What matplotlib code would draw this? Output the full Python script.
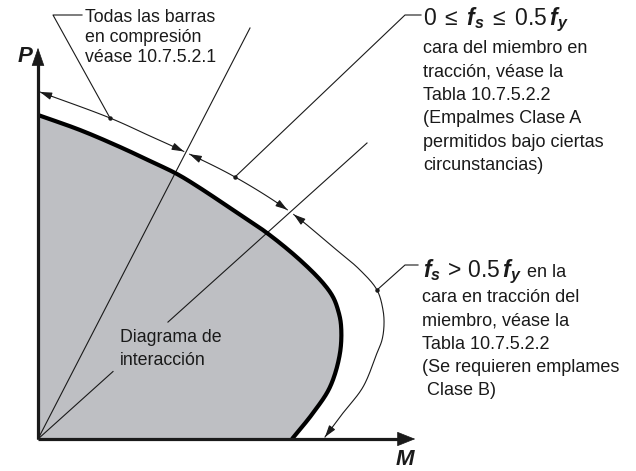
import numpy as np
import matplotlib
matplotlib.use("Agg")
import matplotlib.pyplot as plt
from matplotlib.patches import FancyArrowPatch

plt.rcParams['mathtext.fontset'] = 'custom'
plt.rcParams['mathtext.rm'] = 'Liberation Sans'
plt.rcParams['mathtext.it'] = 'Liberation Sans:italic'
plt.rcParams['mathtext.bf'] = 'Liberation Sans:bold'
plt.rcParams['mathtext.bfit'] = 'Liberation Sans:italic:bold'

# ---------------- data (M, P) relative to origin ----------------
inner_M = [0, 42, 82, 112, 139, 162, 195, 229, 262, 285, 295, 300, 303, 302, 292, 275, 254]
inner_P = [324, 309, 292, 278, 265, 251, 229, 206, 179, 156, 142, 129, 114, 86, 52, 26, 0]

outer_M = [2, 72, 112, 147, 197, 251, 295, 322, 339, 345, 346, 344, 339, 325, 305, 287]
outer_P = [347, 321, 303, 287, 262, 228, 192, 169, 149, 129, 114, 99, 86, 52, 26, 2]

ray1_end = (212, 411)   # line "todas las barras en compresión"
ray2_end = (329, 296)   # line through fs = 0.5 fy boundary

P_axis_len = 394
M_axis_len = 380

label_todas = ["Todas las barras", "en compresión", "véase 10.7.5.2.1"]
label_A_head = r"$0\;\leq\;\mathbfit{f}_{\mathbfit{s}}\;\leq\;0.5\,\mathbfit{f}_{\mathbfit{y}}$"
label_A = ["cara del miembro en", "tracción, véase la", "Tabla 10.7.5.2.2",
           "(Empalmes Clase A", "permitidos bajo ciertas", "circunstancias)"]
label_B_head = r"$\mathbfit{f}_{\mathbfit{s}}\,>\,0.5\,\mathbfit{f}_{\mathbfit{y}}$"
label_B_tail = "en la"
label_B = ["cara en tracción del", "miembro, véase la", "Tabla 10.7.5.2.2",
           "(Se requieren emplames", " Clase B)"]
label_diag = ["Diagrama de", "interacción"]


def catmull(xs, ys, n=30, alpha=0.5):
    pts = np.column_stack([xs, ys]).astype(float)
    pts = np.vstack([2 * pts[0] - pts[1], pts, 2 * pts[-1] - pts[-2]])
    out = []
    for i in range(1, len(pts) - 2):
        p0, p1, p2, p3 = pts[i - 1], pts[i], pts[i + 1], pts[i + 2]
        t0 = 0.0
        t1 = t0 + np.linalg.norm(p1 - p0) ** alpha
        t2 = t1 + np.linalg.norm(p2 - p1) ** alpha
        t3 = t2 + np.linalg.norm(p3 - p2) ** alpha
        t = np.linspace(t1, t2, n, endpoint=False)[:, None]
        a1 = (t1 - t) / (t1 - t0) * p0 + (t - t0) / (t1 - t0) * p1
        a2 = (t2 - t) / (t2 - t1) * p1 + (t - t1) / (t2 - t1) * p2
        a3 = (t3 - t) / (t3 - t2) * p2 + (t - t2) / (t3 - t2) * p3
        b1 = (t2 - t) / (t2 - t0) * a1 + (t - t0) / (t2 - t0) * a2
        b2 = (t3 - t) / (t3 - t1) * a2 + (t - t1) / (t3 - t1) * a3
        c = (t2 - t) / (t2 - t1) * b1 + (t - t1) / (t2 - t1) * b2
        out.append(c)
    out.append(pts[-2][None, :])
    return np.vstack(out)


fig = plt.figure(figsize=(6.36, 4.71), dpi=100)
ax = fig.add_axes([0, 0, 1, 1])
ax.set_xlim(-38, 598)
ax.set_ylim(-32, 439)
ax.axis('off')

LINE = '#1a1a1a'
FONT = 'Liberation Sans'

inner = catmull(inner_M, inner_P)
outer = catmull(outer_M, outer_P)

# gray interaction area
ax.fill(np.r_[0, inner[:, 0], 0], np.r_[0, inner[:, 1], 0], color='#bebfc3', lw=0, zorder=1)

# rays from origin
ax.plot([0, ray1_end[0]], [0, ray1_end[1]], color=LINE, lw=0.8, zorder=2)
r2 = np.array(ray2_end, float)
ax.plot([0, 0.228 * r2[0]], [0, 0.228 * r2[1]], color=LINE, lw=0.8, zorder=2)
ax.plot([0.395 * r2[0], r2[0]], [0.395 * r2[1], r2[1]], color=LINE, lw=0.8, zorder=2)

# interaction curve
ax.plot(inner[:, 0], inner[:, 1], color='black', lw=3.0, zorder=3, solid_capstyle='butt')

# axes with arrows
ax.plot([0, 0], [0, P_axis_len - 14], color=LINE, lw=2.3, zorder=4, solid_capstyle='butt')
ax.plot([0, M_axis_len - 14], [0, 0], color=LINE, lw=2.3, zorder=4, solid_capstyle='butt')
ax.add_patch(FancyArrowPatch((0, P_axis_len - 20), (0, P_axis_len), arrowstyle='-|>,head_length=12,head_width=4.2',
                             mutation_scale=1, color=LINE, lw=0.5, zorder=5))
ax.add_patch(FancyArrowPatch((M_axis_len - 20, 0), (M_axis_len, 0), arrowstyle='-|>,head_length=12,head_width=4.8',
                             mutation_scale=1, color=LINE, lw=0.5, zorder=5))

# outer boundary split into three dimensioned segments
ang = np.arctan2(outer[:, 1], outer[:, 0])
a1 = np.arctan2(ray1_end[1], ray1_end[0])
a2 = np.arctan2(ray2_end[1], ray2_end[0])
i1 = int(np.argmin(np.abs(ang - a1)))
i2 = int(np.argmin(np.abs(ang - a2)))
seglen = np.r_[0, np.cumsum(np.hypot(np.diff(outer[:, 0]), np.diff(outer[:, 1])))]


def idx_at(s):
    return int(np.argmin(np.abs(seglen - s)))


gap = 3.0
segs = [(0, idx_at(seglen[i1] - gap)),
        (idx_at(seglen[i1] + gap), idx_at(seglen[i2] - gap)),
        (idx_at(seglen[i2] + gap), len(outer) - 1)]
for a, b in segs:
    s = outer[a:b + 1]
    ax.plot(s[:, 0], s[:, 1], color=LINE, lw=0.8, zorder=4)
    for end, direction in ((a, 1), (b, -1)):
        back = idx_at(seglen[end] + direction * 12)
        ax.add_patch(FancyArrowPatch(tuple(outer[back]), tuple(outer[end]),
                                     arrowstyle='-|>,head_length=7,head_width=2.2',
                                     mutation_scale=1, color=LINE, lw=0.8, zorder=5,
                                     shrinkA=0, shrinkB=0))


def px(x, y):
    return x - 38, 439 - y


# leader lines
def leader(points, dot):
    xs, ys = zip(*[px(*p) for p in points])
    ax.plot(xs, ys, color=LINE, lw=0.8, zorder=4)
    ax.plot(*px(*dot), 'o', color=LINE, ms=2.2, zorder=6)


leader([(82, 15), (53, 15), (110, 118)], (110, 118))
leader([(421, 15), (405, 15), (235, 177)], (235, 177))
leader([(418, 265), (405, 265), (377, 290)], (377, 290))


def T(x, y, s, size=13, **kw):
    ax.text(*px(x, y), s, fontsize=size, family=FONT, va='baseline', ha='left', color='#1a1a1a', **kw)


for i, s in enumerate(label_todas):
    T(85, 22 + i * 20, s, 12.8)

T(423, 25, label_A_head, 16.5)
for i, s in enumerate(label_A):
    T(423, 53 + i * 23.4, s, 13)

T(423, 277, label_B_head, 16.5)
T(527, 277, label_B_tail, 13)
for i, s in enumerate(label_B):
    T(422, 302 + i * 23.3, s, 13)

for i, s in enumerate(label_diag):
    T(120, 342 + i * 23, s, 12.8)

ax.text(*px(25, 62), 'P', fontsize=16, family=FONT, fontweight='bold', fontstyle='italic',
        ha='center', va='baseline', color='#1a1a1a')
ax.text(*px(405, 465), 'M', fontsize=16, family=FONT, fontweight='bold', fontstyle='italic',
        ha='center', va='baseline', color='#1a1a1a')

fig.savefig('out.png', dpi=100, facecolor='white')
